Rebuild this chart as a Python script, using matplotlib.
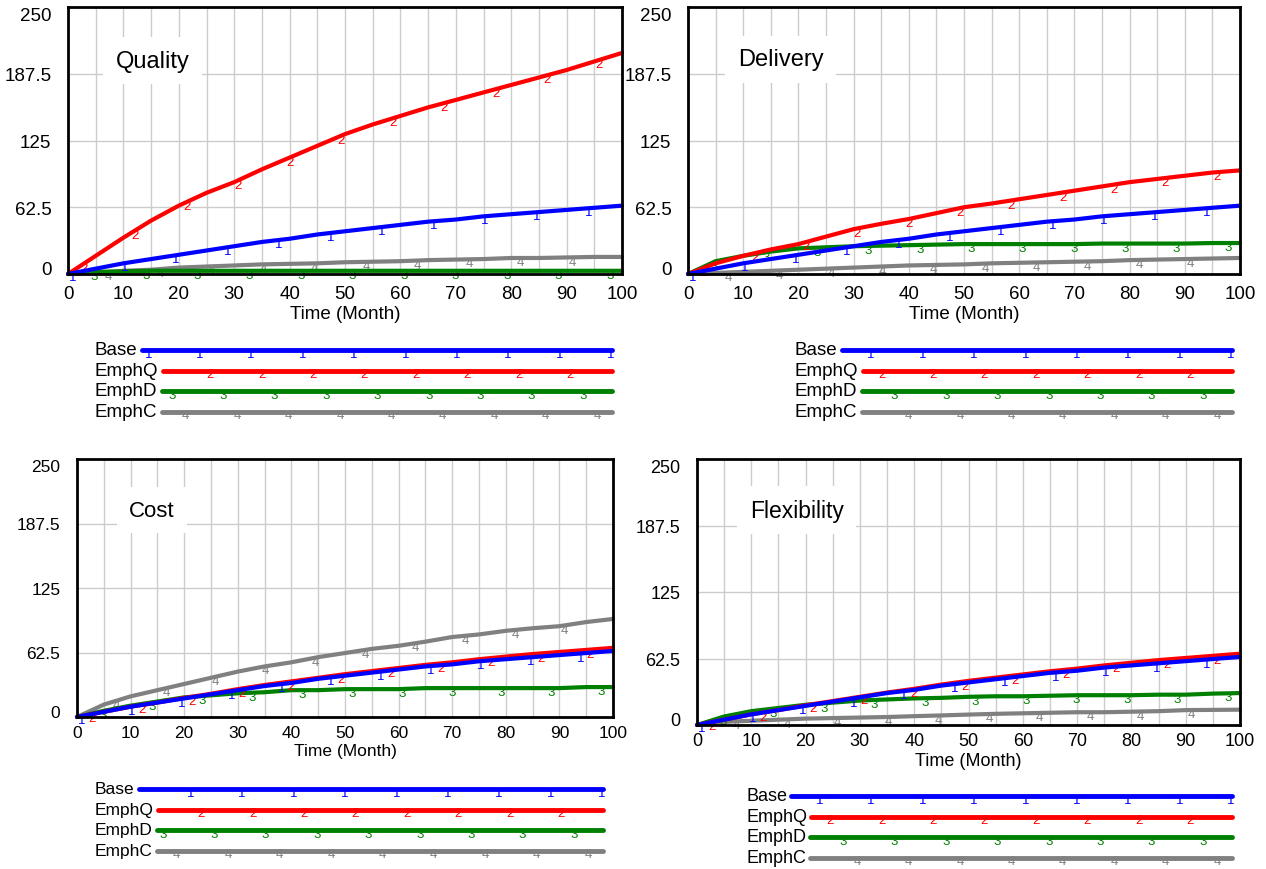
import matplotlib
matplotlib.use('Agg')
import matplotlib.pyplot as plt
import numpy as np

plt.rcParams['font.family'] = ['Liberation Sans', 'DejaVu Sans']

months = np.arange(0, 101, 5)

# Base run is the same in every panel
base = [0, 5, 10, 14, 18, 22, 26, 30, 33, 37, 40, 43, 46, 49, 51, 54, 56, 58, 60, 62, 64]

quality_emphq = [0, 17, 34, 50, 64, 76, 86, 98, 109, 120, 131, 140, 148, 156, 163, 170, 177, 184, 191, 199, 207]
quality_emphd = [0, 2, 2.5, 3, 3, 3, 3, 3, 3, 3, 3, 3, 3, 3, 3, 3, 3, 3, 3, 3, 3]
quality_emphc = [0, 1, 3, 4, 6, 7, 8, 9, 9.5, 10, 11, 11.5, 12, 13, 13.5, 14, 15, 15, 15.5, 16, 16]

delivery_emphq = [0, 10, 17, 23, 28, 35, 42, 47, 51.5, 57, 62.5, 66, 70, 74, 78, 82, 86, 89, 92, 95, 97]
delivery_emphd = [0, 12, 17, 21, 24, 25, 26, 26.5, 27, 27.5, 28, 28, 28, 28, 28, 28.5, 28.5, 28.5, 28.5, 29, 29]
delivery_emphc = [0, 1, 2, 3, 4, 5, 6, 7, 8, 8.5, 9, 10, 10.5, 11, 11.5, 12, 13, 13.5, 14, 14.5, 15]

cost_emphq = [0, 5, 10, 14, 18.5, 22.5, 27, 31, 34.5, 38, 41.5, 44.5, 47.5, 50.5, 53, 56, 58.5, 61, 63, 65, 67]
cost_emphd = [0, 6, 11, 15, 19, 21, 23, 24, 26, 26, 27, 27, 27, 28, 28, 28, 28, 28, 28, 29, 29]
cost_emphc = [0, 12, 20, 26, 32, 38, 44, 49, 53, 58, 62, 66, 69, 73, 77.5, 80, 83.5, 86, 88, 92, 95]

flex_emphq = [0, 5, 10, 14, 18.5, 22.5, 26.5, 30.5, 34, 38, 41.5, 44.5, 47.5, 50.5, 53, 56, 58.5, 61, 63, 65, 67]
flex_emphd = [0, 8, 13, 16, 19, 21, 23, 24, 25, 25.5, 26.5, 27, 27, 27.5, 28, 28, 28, 28.5, 28.5, 29.5, 30]
flex_emphc = [0, 3, 4, 5, 6, 6.5, 7, 7.5, 8.3, 9, 9.8, 10.5, 11, 11.5, 12, 12, 12.5, 13, 14, 14.2, 14.4]

series_names = ['Base', 'EmphQ', 'EmphD', 'EmphC']
series_colors = ['#0000ff', '#ff0000', '#008000', '#808080']
series_marks = ['1', '2', '3', '4']
panel_titles = ['Quality', 'Delivery', 'Cost', 'Flexibility']
panel_data = [
    [base, quality_emphq, quality_emphd, quality_emphc],
    [base, delivery_emphq, delivery_emphd, delivery_emphc],
    [base, cost_emphq, cost_emphd, cost_emphc],
    [base, flex_emphq, flex_emphd, flex_emphc],
]
y_ticks = [0, 62.5, 125, 187.5, 250]
y_tick_labels = ['0', '62.5', '125', '187.5', '250']
x_ticks = list(range(0, 101, 10))

W, H = 1266, 870
# axes boxes in pixels: left, top, right, bottom
axes_px = [(68, 8, 622, 275), (688, 8, 1240, 275), (77, 460, 613, 718), (697, 460, 1240, 726)]
title_pos = [(0.153, 0.798), (0.168, 0.805), (0.14, 0.802), (0.184, 0.808)]
font_sizes = [13.5, 13.5, 12.5, 13]
x_pads = [8, 8, 6, 5]
# legend: text left, first row y, line end
legend_px = [(95, 351, 612), (795, 351, 1232), (95, 790, 603), (746, 797, 1232)]
row_gap = 20.5

# where the numbered markers sit along each run (months)
mark_start = [0.9, 2.8, 4.8, 7.3]
mark_step = 9.3
legend_mark_off = [1, 42, 29, 15]
legend_mark_step = 51.4

fig = plt.figure(figsize=(W / 100, H / 100), dpi=100)

for i, (title, runs) in enumerate(zip(panel_titles, panel_data)):
    l, t, r, b = axes_px[i]
    fs = font_sizes[i]
    ax = fig.add_axes([l / W, 1 - b / H, (r - l) / W, (b - t) / H])
    ax.set_xlim(0, 100)
    ax.set_ylim(0, 250)
    ax.set_xticks(x_ticks)
    ax.set_xticks(range(0, 101, 5), minor=True)
    ax.set_yticks(y_ticks)
    ax.set_yticklabels(y_tick_labels)
    ax.tick_params(which='both', length=0, labelsize=fs)
    ax.tick_params(axis='x', pad=x_pads[i])
    ax.tick_params(axis='y', pad=12)
    labs = ax.get_yticklabels()
    labs[0].set_va('baseline')
    labs[-1].set_va('top')
    ax.grid(True, which='minor', axis='x', color='#cccccc', lw=1)
    ax.grid(True, which='major', color='#cccccc', lw=1)
    ax.set_axisbelow(True)
    for s in ax.spines.values():
        s.set_linewidth(2)
        s.set_zorder(6)
    ax.set_xlabel('Time (Month)', fontsize=fs, labelpad=2)

    for k in range(3, -1, -1):
        vals = np.array(runs[k], dtype=float)
        ax.plot(months, vals, color=series_colors[k], lw=3, zorder=5 - k * 0.5,
                clip_on=False, solid_capstyle='round')
        mx = np.arange(mark_start[k], 100, mark_step)
        my = np.interp(mx, months, vals)
        for x0, y0 in zip(mx, my):
            ax.annotate(series_marks[k], (x0, y0), xytext=(0, -3), textcoords='offset points',
                        ha='center', va='center', fontsize=9.5, color=series_colors[k],
                        zorder=5 - k * 0.5)

    ax.text(title_pos[i][0], title_pos[i][1], title, transform=ax.transAxes,
            ha='center', va='center', fontsize=fs + 3.5, zorder=7,
            bbox=dict(facecolor='white', edgecolor='none', pad=9))

# legends drawn on an overlay in pixel units
lax = fig.add_axes([0, 0, 1, 1])
lax.set_xlim(0, W)
lax.set_ylim(H, 0)
lax.axis('off')
renderer = fig.canvas.get_renderer()
for i in range(4):
    x0, y0, x1 = legend_px[i]
    fs = font_sizes[i]
    for k, name in enumerate(series_names):
        y = y0 + k * row_gap
        txt = lax.text(x0, y, name, ha='left', va='center', fontsize=fs)
        ext = txt.get_window_extent(renderer)
        start = ext.x1 + 4
        lax.plot([start, x1], [y, y], color=series_colors[k], lw=3.5, solid_capstyle='round')
        p = x1 - legend_mark_off[k]
        while p >= start + 4:
            lax.text(p, y + 4, series_marks[k], ha='center', va='center',
                     fontsize=9.5, color=series_colors[k], zorder=3)
            p -= legend_mark_step

fig.savefig('out.png', dpi=100)
